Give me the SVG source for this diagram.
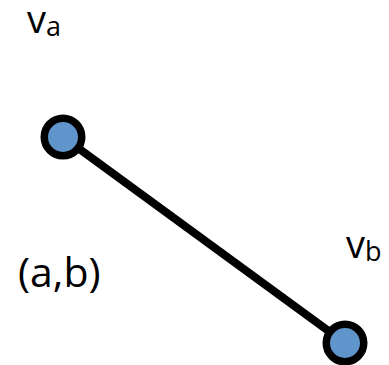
<svg xmlns="http://www.w3.org/2000/svg" width="389" height="365" viewBox="0 0 389 365">
<style>
.node{fill:#5F95CB;stroke:#000;stroke-width:7.5}
.edge{stroke:#000;stroke-width:8;fill:none}
.lbl{font-family:"Open Sans","Noto Sans",sans-serif;fill:#000}
</style>
<rect width="389" height="365" fill="#fff"/>
<g id="connectors">
<line class="edge" x1="63" y1="137" x2="345" y2="343"/>
</g>
<g id="node-a">
<circle class="node" cx="63" cy="137" r="18.75"/>
</g>
<g id="node-b">
<circle class="node" cx="345" cy="343" r="18.75"/>
</g>
<g id="label-va">
<text class="lbl" x="27" y="33" font-size="38">v<tspan font-size="27" dy="3">a</tspan></text>
</g>
<g id="label-vb">
<text class="lbl" x="346" y="258" font-size="38">v<tspan font-size="27" dy="3">b</tspan></text>
</g>
<g id="label-ab">
<text class="lbl" x="18" y="287" font-size="41">(a,b)</text>
</g>
</svg>
